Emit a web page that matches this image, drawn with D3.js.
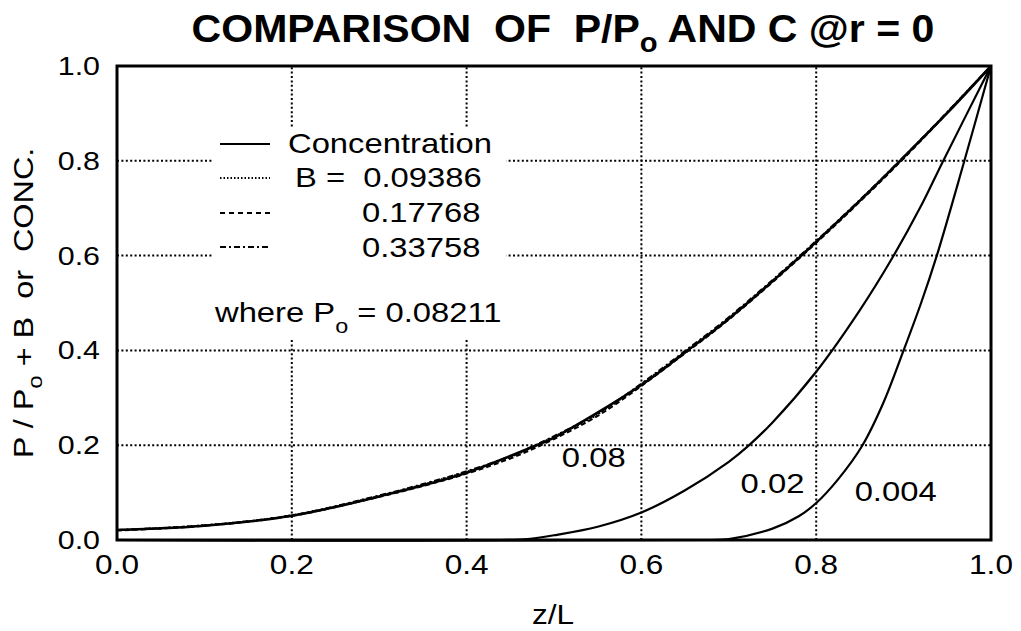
<!DOCTYPE html>
<html>
<head>
<meta charset="utf-8">
<script src="https://cdn.jsdelivr.net/npm/d3@7"></script>
<style>
  html, body { margin: 0; padding: 0; background: #fff; }
  svg { display: block; font-family: "Liberation Sans", Arial, Helvetica, sans-serif; }
</style>
</head>
<body>
<svg id="chart" width="1021" height="631"></svg>
<script>
// Concentration at r = 0 along z/L, one curve per parameter value
const curveNames = ["0.08", "0.02", "0.004"];
const zConc08 = [0, 0.1, 0.2, 0.3, 0.4, 0.48, 0.5, 0.6, 0.653, 0.7, 0.783, 0.8, 0.85, 0.896, 0.95, 1.0];
const cConc08 = [0.021, 0.030, 0.051, 0.092, 0.142, 0.200, 0.216, 0.327, 0.400, 0.467, 0.600, 0.629, 0.716, 0.800, 0.901, 1.0];
const zConc02 = [0, 0.44, 0.47, 0.5, 0.55, 0.6, 0.65, 0.7, 0.722, 0.75, 0.8, 0.85, 0.888, 0.92, 0.944, 1.0];
const cConc02 = [0, 0, 0.002, 0.010, 0.028, 0.058, 0.105, 0.165, 0.198, 0.248, 0.355, 0.485, 0.598, 0.705, 0.795, 1.0];
const zConc004 = [0, 0.68, 0.7, 0.75, 0.78, 0.8, 0.825, 0.853, 0.877, 0.9, 0.92, 0.938, 0.968, 1.0];
const cConc004 = [0, 0, 0.002, 0.024, 0.050, 0.078, 0.128, 0.200, 0.290, 0.400, 0.500, 0.600, 0.790, 1.0];

// Reduced pressure P/Po + B for three values of B
const bValues = ["0.09386", "0.17768", "0.33758"];
const zPress = [0, 0.1, 0.2, 0.3, 0.35, 0.4, 0.45, 0.5, 0.55, 0.6, 0.65, 0.7, 0.8, 0.9, 1.0];
const pB1 = [0.021, 0.031, 0.052, 0.093, 0.117, 0.144, 0.175, 0.218, 0.265, 0.329, 0.397, 0.468, 0.630, 0.807, 1.0];
const pB2 = [0.020, 0.030, 0.051, 0.091, 0.114, 0.140, 0.172, 0.213, 0.262, 0.325, 0.394, 0.465, 0.627, 0.805, 1.0];
const pB3 = [0.021, 0.031, 0.052, 0.094, 0.118, 0.145, 0.177, 0.219, 0.267, 0.330, 0.399, 0.470, 0.631, 0.808, 1.0];

const xTicks = [0, 0.2, 0.4, 0.6, 0.8, 1.0];
const yTicks = [0, 0.2, 0.4, 0.6, 0.8, 1.0];

const svg = d3.select("#chart");
const x = d3.scaleLinear().domain([0, 1]).range([117, 991]);
const y = d3.scaleLinear().domain([0, 1]).range([540, 66]);
const fmt = d3.format(".1f");
const SX = 1.17; // horizontal stretch of the lettering

// text helper: places a text element at (px, py) with horizontal stretch
function label(parent, px, py, size, anchor, sx) {
  return parent.append("text")
    .attr("transform", `translate(${px},${py}) scale(${sx},1)`)
    .attr("font-size", size)
    .attr("text-anchor", anchor)
    .attr("fill", "#000");
}

// title
const title = label(svg, 563, 42, 38, "middle", 1.08).attr("font-weight", "bold");
title.append("tspan").text("COMPARISON\u00a0\u00a0OF\u00a0\u00a0P/P");
title.append("tspan").attr("font-size", 27).attr("dy", 10).text("o");
title.append("tspan").attr("dy", -10).text(" AND C @r = 0");

// grid
const grid = svg.append("g")
  .attr("stroke", "#000").attr("stroke-width", 2).attr("stroke-dasharray", "2,2.4");
grid.selectAll("line.v").data(xTicks.slice(1, -1)).join("line")
  .attr("x1", d => x(d)).attr("x2", d => x(d)).attr("y1", y(0)).attr("y2", y(1));
grid.selectAll("line.h").data(yTicks.slice(1, -1)).join("line")
  .attr("x1", x(0)).attr("x2", x(1)).attr("y1", d => y(d)).attr("y2", d => y(d));

// legend panel hides the grid behind it
svg.append("rect").attr("x", 213).attr("y", 127).attr("width", 293).attr("height", 211).attr("fill", "#fff");

const line = d3.line().x(d => x(d[0])).y(d => y(d[1])).curve(d3.curveCatmullRom.alpha(0.5));
const zip = (a, b) => a.map((v, i) => [v, b[i]]);

// pressure curves
const pressStyles = [
  { data: pB1, dash: "1.5,2", w: 2 },
  { data: pB2, dash: "5,3", w: 2 },
  { data: pB3, dash: "6,3,2,3", w: 2 }
];
pressStyles.forEach(s => {
  svg.append("path").datum(zip(zPress, s.data)).attr("d", line)
    .attr("fill", "none").attr("stroke", "#000").attr("stroke-width", s.w)
    .attr("stroke-dasharray", s.dash);
});

// concentration curves
[[zConc08, cConc08, 2.6], [zConc02, cConc02, 2.2], [zConc004, cConc004, 2.2]].forEach(([zs, cs, w]) => {
  svg.append("path").datum(zip(zs, cs)).attr("d", line)
    .attr("fill", "none").attr("stroke", "#000").attr("stroke-width", w);
});

// curve labels
const curveLabelPos = [[0.509, 0.155], [0.7135, 0.0985], [0.844, 0.083]];
curveNames.forEach((n, i) => {
  label(svg, x(curveLabelPos[i][0]), y(curveLabelPos[i][1]), 28, "start", SX).text(n);
});

// frame
svg.append("rect").attr("x", x(0)).attr("y", y(1))
  .attr("width", x(1) - x(0)).attr("height", y(0) - y(1))
  .attr("fill", "none").attr("stroke", "#000").attr("stroke-width", 3);

// tick labels
xTicks.forEach(t => label(svg, x(t), 574, 27, "middle", SX).text(fmt(t)));
yTicks.forEach(t => label(svg, 100, y(t) + 9, 26, "end", SX).text(fmt(t)));

// axis titles
label(svg, 553, 624, 27, "middle", SX).text("z/L");
const yt = svg.append("text")
  .attr("transform", `translate(33,303) rotate(-90) scale(1.2,1)`)
  .attr("font-size", 27).attr("text-anchor", "middle");
yt.append("tspan").text("P / P");
yt.append("tspan").attr("font-size", 20).attr("dy", 9).text("o");
yt.append("tspan").attr("dy", -9).text("\u00a0+ B\u00a0\u00a0or\u00a0\u00a0CONC.");

// legend
const legend = svg.append("g");
const legendRows = [
  { dash: null, text: "Concentration", ty: 153, ly: 144, tx: 288 },
  { dash: "1.5,2", text: "B =\u00a0\u00a0" + bValues[0], ty: 187, ly: 178, tx: 295 },
  { dash: "5,4", text: bValues[1], ty: 222, ly: 213, tx: 362 },
  { dash: "6,3,2,3", text: bValues[2], ty: 257, ly: 247, tx: 362 }
];
legendRows.forEach(r => {
  legend.append("line").attr("x1", 220).attr("x2", 270).attr("y1", r.ly).attr("y2", r.ly)
    .attr("stroke", "#000").attr("stroke-width", 2)
    .attr("stroke-dasharray", r.dash);
  label(legend, r.tx, r.ty, 28, "start", SX).text(r.text);
});
const where = label(legend, 215, 322, 28, "start", SX);
where.append("tspan").text("where P");
where.append("tspan").attr("font-size", 20).attr("dy", 11).text("o");
where.append("tspan").attr("dy", -11).text(" = 0.08211");
</script>
</body>
</html>
